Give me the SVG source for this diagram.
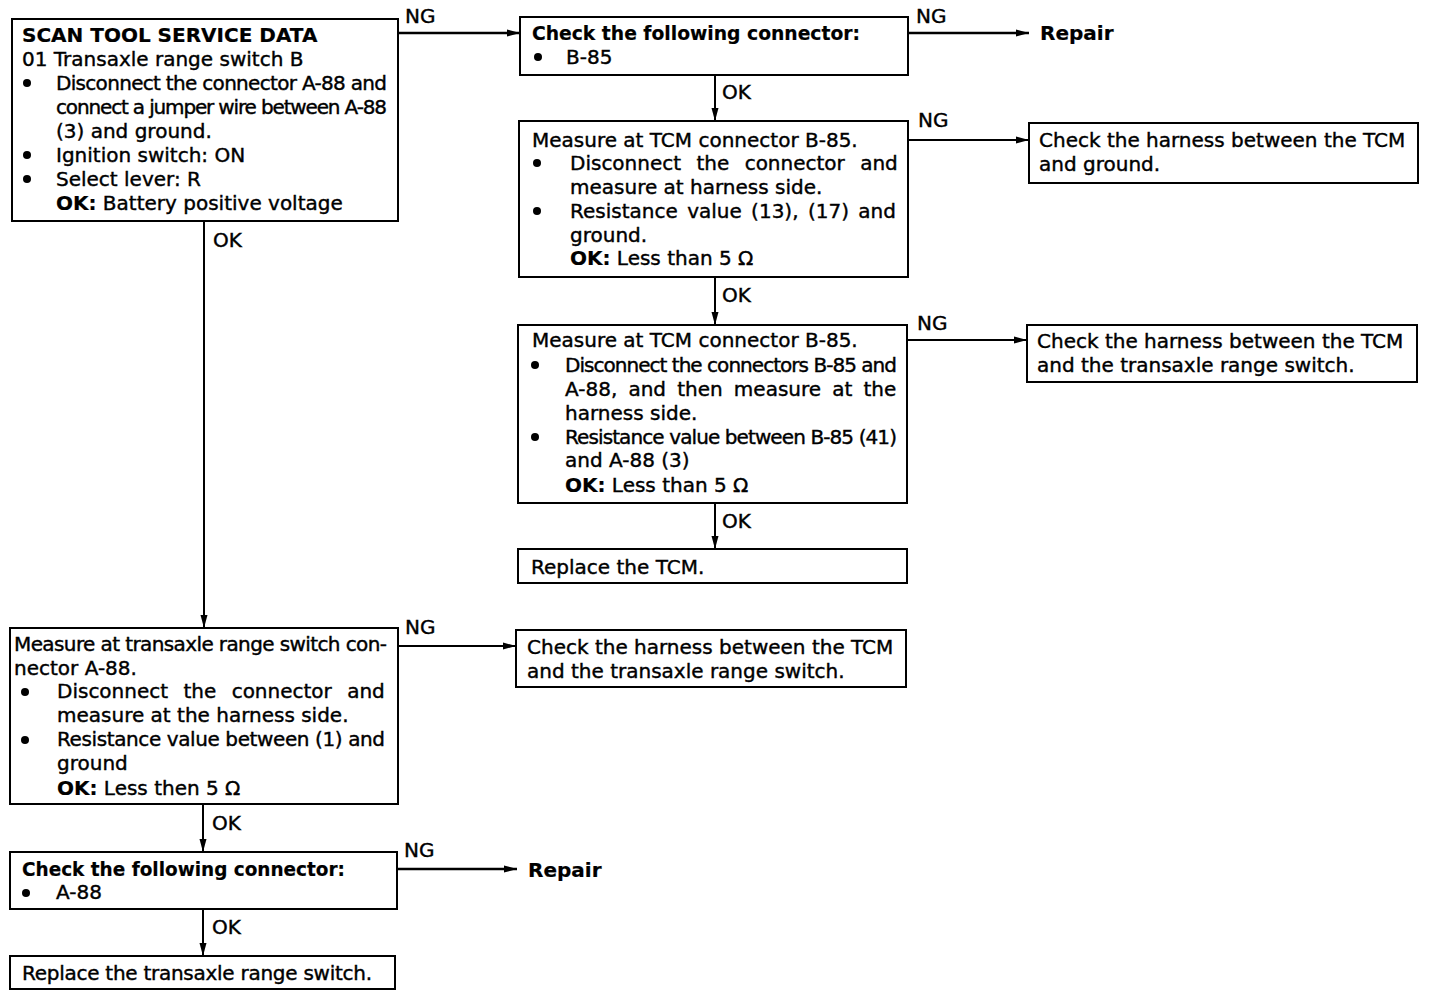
<svg xmlns="http://www.w3.org/2000/svg" width="1440" height="996" viewBox="0 0 1440 996">
<defs>
<style>
.box{fill:#fff;stroke:#000;stroke-width:2}
.t{font-family:"DejaVu Sans","Liberation Sans",sans-serif;font-size:20px;fill:#000;stroke:#000;stroke-width:0.4}
.b{font-weight:bold;stroke-width:0.2}
.c{stroke:#000;stroke-width:2;fill:none;marker-end:url(#ah)}
.dot{fill:#000}
</style>
<marker id="ah" markerUnits="userSpaceOnUse" markerWidth="14" markerHeight="10" refX="13" refY="5" orient="auto">
<path d="M0,1.5 L13,5 L0,8.5 z" fill="#000"/>
</marker>
</defs>
<rect width="1440" height="996" fill="#fff"/>

<g id="connectors">
<line class="c" x1="398" y1="33" x2="520" y2="33" style="stroke-width:2.5"/>
<text class="t" x="405" y="23">NG</text>
<line class="c" x1="908" y1="33" x2="1029" y2="33" style="stroke-width:2.5"/>
<text class="t" x="916" y="23">NG</text>
<line class="c" x1="715" y1="75" x2="715" y2="121"/>
<text class="t" x="722" y="99">OK</text>
<line class="c" x1="908" y1="140" x2="1029" y2="140"/>
<text class="t" x="918" y="127">NG</text>
<line class="c" x1="715" y1="277" x2="715" y2="325"/>
<text class="t" x="722" y="302">OK</text>
<line class="c" x1="907" y1="340" x2="1027" y2="340"/>
<text class="t" x="917" y="330">NG</text>
<line class="c" x1="715" y1="503" x2="715" y2="549"/>
<text class="t" x="722" y="528">OK</text>
<line class="c" x1="204" y1="221" x2="204" y2="628"/>
<text class="t" x="213" y="247">OK</text>
<line class="c" x1="398" y1="646" x2="516" y2="646"/>
<text class="t" x="405" y="634">NG</text>
<line class="c" x1="203" y1="804" x2="203" y2="852"/>
<text class="t" x="212" y="830">OK</text>
<line class="c" x1="397" y1="869" x2="517" y2="869" style="stroke-width:2.5"/>
<text class="t" x="404" y="857">NG</text>
<line class="c" x1="203" y1="909" x2="203" y2="956"/>
<text class="t" x="212" y="934">OK</text>
</g>

<g id="scan-tool">
<rect class="box" x="12" y="19" width="386" height="202"/>
<text class="t b" x="22" y="42">SCAN TOOL SERVICE DATA</text>
<text class="t" x="22" y="66">01 Transaxle range switch B</text>
<circle class="dot" cx="27" cy="83" r="4"/>
<text class="t" x="56" y="90" textLength="331" lengthAdjust="spacing">Disconnect the connector A-88 and</text>
<text class="t" x="56" y="114" textLength="331" lengthAdjust="spacing">connect a jumper wire between A-88</text>
<text class="t" x="56" y="138">(3) and ground.</text>
<circle class="dot" cx="27" cy="155" r="4"/>
<text class="t" x="56" y="162">Ignition switch: ON</text>
<circle class="dot" cx="27" cy="179" r="4"/>
<text class="t" x="56" y="186">Select lever: R</text>
<text class="t" x="56" y="210"><tspan class="b">OK:</tspan> Battery positive voltage</text>
</g>

<g id="check-b85">
<rect class="box" x="520" y="17" width="388" height="58"/>
<text class="t b" x="532" y="40" textLength="328" lengthAdjust="spacingAndGlyphs">Check the following connector:</text>
<circle class="dot" cx="538" cy="57" r="4"/>
<text class="t" x="566" y="64">B-85</text>
</g>

<g id="repair-1">
<text class="t b" x="1040" y="40">Repair</text>
</g>

<g id="measure-tcm-1">
<rect class="box" x="519" y="121" width="389" height="156"/>
<text class="t" x="532" y="147">Measure at TCM connector B-85.</text>
<circle class="dot" cx="537" cy="163" r="4"/>
<text class="t" x="570" y="170" style="word-spacing:9px">Disconnect the connector and</text>
<text class="t" x="570" y="194">measure at harness side.</text>
<circle class="dot" cx="537" cy="211" r="4"/>
<text class="t" x="570" y="218" style="word-spacing:3px">Resistance value (13), (17) and</text>
<text class="t" x="570" y="242">ground.</text>
<text class="t" x="570" y="265"><tspan class="b">OK:</tspan> Less than 5 Ω</text>
</g>

<g id="harness-ground">
<rect class="box" x="1029" y="123" width="389" height="60"/>
<text class="t" x="1039" y="147">Check the harness between the TCM</text>
<text class="t" x="1039" y="171">and ground.</text>
</g>

<g id="measure-tcm-2">
<rect class="box" x="518" y="325" width="389" height="178"/>
<text class="t" x="532" y="347">Measure at TCM connector B-85.</text>
<circle class="dot" cx="535" cy="365" r="4"/>
<text class="t" x="565" y="372" textLength="332" lengthAdjust="spacing">Disconnect the connectors B-85 and</text>
<text class="t" x="565" y="396" style="word-spacing:4.8px">A-88, and then measure at the</text>
<text class="t" x="565" y="420">harness side.</text>
<circle class="dot" cx="535" cy="437" r="4"/>
<text class="t" x="565" y="444" textLength="332" lengthAdjust="spacing">Resistance value between B-85 (41)</text>
<text class="t" x="565" y="467">and A-88 (3)</text>
<text class="t" x="565" y="492"><tspan class="b">OK:</tspan> Less than 5 Ω</text>
</g>

<g id="harness-switch-1">
<rect class="box" x="1027" y="325" width="390" height="57"/>
<text class="t" x="1037" y="348">Check the harness between the TCM</text>
<text class="t" x="1037" y="372">and the transaxle range switch.</text>
</g>

<g id="replace-tcm">
<rect class="box" x="518" y="549" width="389" height="34"/>
<text class="t" x="531" y="574">Replace the TCM.</text>
</g>

<g id="measure-switch">
<rect class="box" x="10" y="628" width="388" height="176"/>
<text class="t" x="14" y="651" textLength="373" lengthAdjust="spacing">Measure at transaxle range switch con-</text>
<text class="t" x="14" y="675">nector A-88.</text>
<circle class="dot" cx="25" cy="692" r="4"/>
<text class="t" x="57" y="698" style="word-spacing:9px">Disconnect the connector and</text>
<text class="t" x="57" y="722">measure at the harness side.</text>
<circle class="dot" cx="25" cy="740" r="4"/>
<text class="t" x="57" y="746" textLength="328" lengthAdjust="spacing">Resistance value between (1) and</text>
<text class="t" x="57" y="770">ground</text>
<text class="t" x="57" y="795"><tspan class="b">OK:</tspan> Less then 5 Ω</text>
</g>

<g id="harness-switch-2">
<rect class="box" x="516" y="630" width="390" height="57"/>
<text class="t" x="527" y="654">Check the harness between the TCM</text>
<text class="t" x="527" y="678">and the transaxle range switch.</text>
</g>

<g id="check-a88">
<rect class="box" x="10" y="852" width="387" height="57"/>
<text class="t b" x="22" y="876" textLength="323" lengthAdjust="spacingAndGlyphs">Check the following connector:</text>
<circle class="dot" cx="26" cy="893" r="4"/>
<text class="t" x="56" y="899">A-88</text>
</g>

<g id="repair-2">
<text class="t b" x="528" y="877">Repair</text>
</g>

<g id="replace-switch">
<rect class="box" x="10" y="956" width="385" height="33"/>
<text class="t" x="22" y="980" textLength="350" lengthAdjust="spacing">Replace the transaxle range switch.</text>
</g>
</svg>
